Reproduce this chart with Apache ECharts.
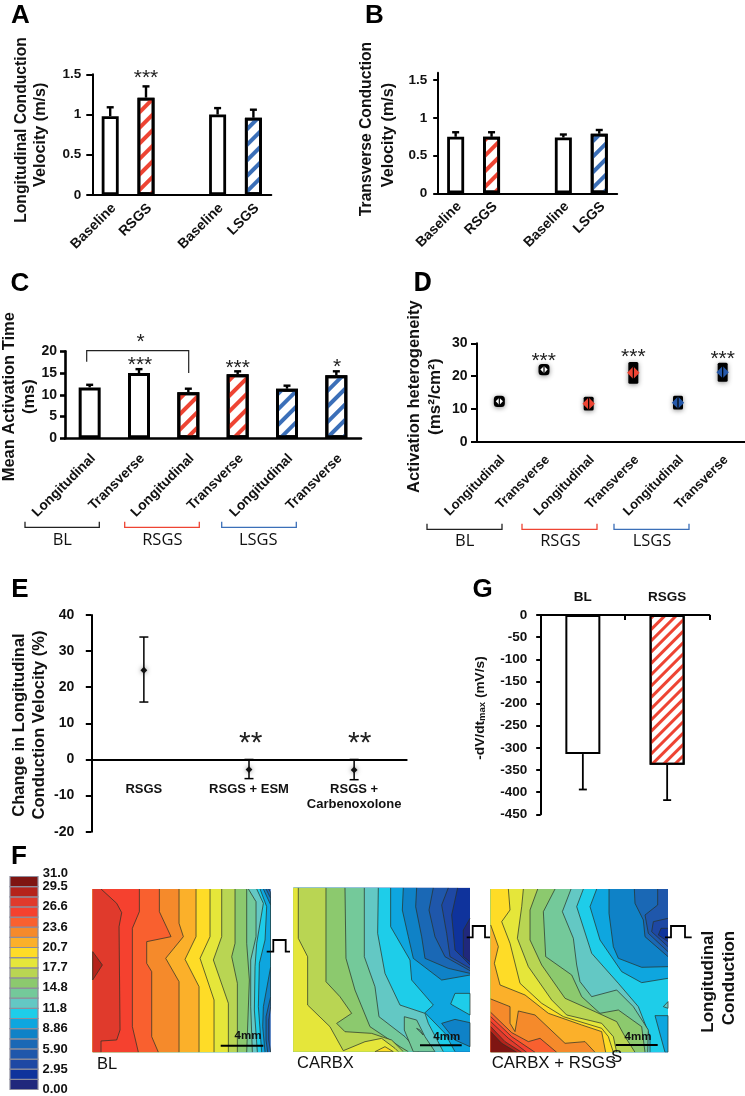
<!DOCTYPE html>
<html><head><meta charset="utf-8">
<script src="https://cdn.jsdelivr.net/npm/echarts@6/dist/echarts.min.js"></script>
<style>html,body{margin:0;padding:0;background:#fff}#c{width:745px;height:1096px}</style></head>
<body><div id="c"></div>
<script>
const RED='#ee4433', BLUE='#3b6fb8';
// Panels A, B
const catsAB=['Baseline','RSGS','','Baseline','LSGS'];
const aValues=[0.98,1.21,null,1.0,0.96];
const aErrTop=[1.09,1.35,null,1.08,1.06];
const bValues=[0.75,0.75,null,0.74,0.79];
const bErrTop=[0.81,0.81,null,0.78,0.84];
const hatchAB=[null,RED,null,null,BLUE];
// Panel C
const catsCD=['Longitudinal','Transverse','Longitudinal','Transverse','Longitudinal','Transverse'];
const cValues=[11.7,15.0,10.6,14.7,11.4,14.5];
const cErrTop=[12.3,15.9,11.4,15.4,12.1,15.4];
const hatchC=[null,null,RED,RED,BLUE,BLUE];
// Panel D
const dValues=[12.3,22.0,11.6,21.0,11.9,21.2];
const dErr=[1.4,1.4,1.8,3.0,1.8,2.6];
const dMarkColor=['#fff','#fff',RED,RED,'#2457a8','#2457a8'];
// Panel E
const catsE=['RSGS','RSGS + ESM','RSGS +\nCarbenoxolone'];
const eValues=[24.7,-2.8,-2.9];
const eLow=[15.9,-5.3,-5.6];
const eHigh=[33.9,0,0];
// Panel G
const catsG=['BL','RSGS'];
const gValues=[-314,-338];
const gErrEnd=[-394,-418];
const hatchG=[null,RED];
// Panel F colour scale (index 0 = lowest band)
const legendColors=['#20287c','#0f339c','#1e48a4','#1f57ab','#1a68b5','#0f82c7','#0ea6df','#1ecde9','#63c8c4','#74c99a','#8cc96e','#b9d553','#e5e63a','#fedc27','#fbb02a','#f58a2b','#f9602f','#f5412f','#e03a2c','#b5231b','#7f1512'];
const legendMax=31;
const legendTicks=[0,2.95,5.9,8.86,11.8,14.8,17.7,20.7,23.6,26.6,29.5];
// Contour maps: band level and boundary, in map units; warm side is filled
const mapBL={x:[278,812],y:[147,637],base:3,lines:[
 [4,[[806,147],[812,158],[812,500],[806,540],[806,600],[812,637]]],
 [5,[[798,147],[812,175],[812,470],[798,530],[798,600],[803,637]]],
 [6,[[790,147],[812,195],[812,380],[790,500],[788,560],[795,637]]],
 [7,[[780,147],[800,200],[795,300],[778,370],[775,500],[785,637]]],
 [8,[[770,147],[790,190],[770,310],[765,380],[763,510],[772,637]]],
 [9,[[745,147],[768,185],[768,290],[752,360],[752,500],[757,637]]],
 [10,[[740,147],[740,310],[748,420],[740,637]]],
 [11,[[705,147],[705,310],[695,350],[712,430],[712,637]]],
 [12,[[665,147],[665,290],[640,360],[685,490],[685,637]]],
 [13,[[630,147],[630,290],[600,355],[642,480],[642,637]]],
 [14,[[588,147],[588,290],[555,358],[597,440],[597,637]]],
 [15,[[537,147],[537,250],[550,290],[497,355],[537,425],[537,637]]],
 [16,[[478,147],[478,215],[513,290],[440,305],[440,370],[455,395],[455,590],[475,637]]],
 [17,[[418,147],[418,215],[397,265],[397,560],[415,637]]],
 [18,[[303,147],[350,190],[365,218],[357,260],[360,570],[350,600],[303,603],[303,637]]]],
 islands:[[19,[[278,335],[307,375],[278,420]]]]};
const mapCARBX={x:[25,555],y:[113,605],base:0,lines:[
 [1,[[555,205],[535,240],[535,320],[555,335]]],
 [2,[[518,113],[500,195],[510,300],[555,345]]],
 [3,[[490,113],[470,165],[485,250],[495,320],[555,355]]],
 [4,[[445,113],[432,180],[450,260],[480,320],[555,362]]],
 [5,[[395,113],[392,170],[410,260],[420,325],[490,355],[555,370]]],
 [6,[[355,113],[352,180],[370,260],[385,325],[470,390],[555,375]]],
 [7,[[317,113],[317,230],[375,330],[380,390],[445,465],[420,488],[480,550],[510,605]]],
 [8,[[280,113],[278,250],[300,370],[345,465],[420,490],[430,520],[475,605]]],
 [9,[[238,113],[238,320],[270,410],[282,500],[360,560],[400,605]]],
 [10,[[180,113],[183,325],[210,420],[255,530],[345,590],[370,605]]],
 [11,[[123,113],[123,395],[165,440],[200,490],[155,520],[180,545],[260,550],[320,570],[355,605]]],
 [12,[[40,113],[40,265],[68,320],[68,465],[135,530],[175,602],[240,575],[290,565],[330,595],[340,605]]]],
 islands:[[13,[[270,605],[300,590],[325,605]]],
 [9,[[358,500],[395,510],[420,560],[450,605],[385,605],[358,540]]],
 [8,[[395,535],[415,555],[405,540]]],
 [7,[[555,430],[510,430],[497,462],[555,495]]],
 [5,[[470,520],[510,508],[555,518],[555,590],[510,570]]]]};
const mapRSGS={x:[17,549],y:[117,607],base:1,lines:[
 [2,[[549,235],[528,235],[520,255],[549,275]]],
 [3,[[549,205],[505,215],[500,245],[549,290]]],
 [4,[[518,117],[518,165],[480,195],[490,250],[549,305]]],
 [5,[[448,117],[450,160],[475,210],[480,260],[549,320]]],
 [6,[[372,117],[372,190],[385,290],[400,325],[470,352],[549,350]]],
 [7,[[335,117],[315,170],[345,270],[410,365],[470,398],[549,385]]],
 [8,[[295,117],[275,170],[320,310],[400,400],[460,470],[495,560],[495,607]]],
 [9,[[258,117],[232,185],[265,265],[275,345],[285,395],[320,440],[395,420],[445,470],[490,540],[488,607]]],
 [10,[[210,117],[175,185],[182,320],[260,375],[290,440],[345,490],[400,480],[470,530],[480,607]]],
 [11,[[158,117],[135,180],[135,270],[170,345],[240,445],[330,485],[395,515],[420,560],[450,607]]],
 [12,[[115,117],[110,170],[97,265],[130,350],[200,450],[245,495],[350,520],[385,560],[395,607]]],
 [13,[[70,117],[75,180],[50,215],[75,280],[105,400],[170,460],[235,500],[350,535],[370,560],[385,607]]],
 [14,[[17,225],[40,290],[28,340],[45,405],[120,435],[190,490],[290,525],[350,545],[362,607]]],
 [15,[[17,447],[75,470],[75,520],[90,545],[100,483],[150,495],[240,580],[300,575],[330,607]]],
 [16,[[17,487],[80,548],[130,575],[165,565],[215,607]]],
 [17,[[17,500],[80,560],[150,607]]],
 [18,[[17,515],[70,565],[125,607]]],
 [19,[[17,530],[60,575],[110,607]]],
 [20,[[17,545],[50,580],[95,607]]]],
 islands:[[6,[[549,497],[510,497],[540,607],[549,607]]],[8,[[549,455],[535,470],[549,475]]]]};

const FONT='"Liberation Sans",Arial,sans-serif';
const grids=[],xAxes=[],yAxes=[],series=[],gfx=[];
function panel(box,xa,ya){grids.push({left:box[0],top:box[1],width:box[2],height:box[3],containLabel:false});
 const g=grids.length-1;xAxes.push(Object.assign({gridIndex:g},xa));yAxes.push(Object.assign({gridIndex:g},ya));return g;}
function valAxis(min,max,interval,o){o=o||{};const t=o.ticks;return {type:'value',min,max,interval,splitLine:{show:false},
 axisLine:{show:true,onZero:false,lineStyle:{color:'#000',width:o.lw||2}},
 axisTick:Object.assign({show:true,length:o.tl||5,lineStyle:{color:'#000',width:o.lw||2}},t?{customValues:t}:{}),
 axisLabel:Object.assign({show:true,color:'#111',fontFamily:FONT,fontWeight:'bold',fontSize:o.fs||13.5,margin:o.margin||5},t?{customValues:t}:{})};}
function catAxis(data,o){o=o||{};const lab={interval:0,rotate:o.rotate||0,color:'#111',fontFamily:FONT,fontWeight:'bold',fontSize:o.fs||13,margin:o.margin===undefined?6:o.margin,lineHeight:15};
 if(o.rotate){lab.verticalAlign='top';lab.padding=[0,2.5,0,0];}
 return {type:'category',data,position:o.position||'bottom',
 axisLine:{show:true,lineStyle:{color:'#000',width:o.lw||2}},
 axisTick:{show:!!o.ticks,inside:true,length:5,lineStyle:{color:'#000',width:2}},
 axisLabel:lab,splitLine:{show:false}};}
function hatch(c,dash){return {symbol:'rect',color:c,dashArrayX:[1,0],dashArrayY:dash,symbolSize:1,rotation:-Math.PI/4};}
function bars(g,values,hatches,w,bw,dash){series.push({type:'bar',xAxisIndex:g,yAxisIndex:g,barWidth:w,z:3,animation:false,
 data:values.map((v,i)=>{if(v===null)return null;const st={color:'#fff',borderColor:'#000',borderWidth:bw};if(hatches[i])st.decal=hatch(hatches[i],dash);return {value:v,itemStyle:st};})});}
function errBars(g,rows,cap,lw,both){series.push({type:'custom',xAxisIndex:g,yAxisIndex:g,z:2,animation:false,clip:false,encode:{x:0,y:[1,2]},data:rows,
 renderItem(p,api){const x=api.value(0),a=api.coord([x,api.value(1)]),b=api.coord([x,api.value(2)]);
  const st={stroke:'#000',lineWidth:lw};
  const ln=(x1,y1,x2,y2)=>({type:'line',shape:{x1,y1,x2,y2},style:st});
  const ch=[ln(a[0],a[1],b[0],b[1]),ln(b[0]-cap,b[1],b[0]+cap,b[1])];
  if(both)ch.push(ln(a[0]-cap,a[1],a[0]+cap,a[1]));
  return {type:'group',children:ch};}});}
function T(x,y,text,o){o=o||{};return {type:'text',x,y,rotation:o.rot?Math.PI/2:0,silent:true,z:20,style:{text,fill:o.color||'#111',fontFamily:o.family||FONT,fontWeight:o.weight||'normal',fontSize:o.size||13,textAlign:o.align||'center',textVerticalAlign:'middle'}};}
function PL(points,color,lw){return {type:'polyline',silent:true,z:20,shape:{points},style:{stroke:color,lineWidth:lw||1.5,fill:null}};}
function stars(x,y,s,size){gfx.push(T(x,y+(size||21)*0.22,s,{size:size||21,color:'#222'}));}

// A
const A=panel([92.3,74.3,179,120.7],catAxis(catsAB,{rotate:45,fs:14,margin:4}),valAxis(0,1.5,0.5,{margin:11,tl:6}));
bars(A,aValues,hatchAB,17,2.8,[3.5,7]);
errBars(A,aValues.map((v,i)=>v===null?null:[i,v,aErrTop[i]]).filter(Boolean),3.5,2.4);
// B
const B=panel([437.7,72.7,179.5,120.6],catAxis(catsAB,{rotate:45,fs:14,margin:4}),valAxis(0,1.6,0.5,{ticks:[0,0.5,1,1.5],margin:10.5,tl:4.5}));
bars(B,bValues,hatchAB,17,2.8,[3.5,7]);
errBars(B,bValues.map((v,i)=>v===null?null:[i,v,bErrTop[i]]).filter(Boolean),3.5,2.4);
// C
const C=panel([65,351.3,296,87],catAxis(catsCD,{rotate:45,fs:13.8,margin:11,lw:2.5}),valAxis(0,20,5,{lw:2.6,fs:14,margin:8}));
bars(C,cValues,hatchC,22,3,[3.2,6.5]);
errBars(C,cValues.map((v,i)=>[i,v,cErrTop[i]]),3.5,2.4);
// D
const D=panel([477,343.3,268,98.4],catAxis(catsCD,{rotate:45,fs:13.2,margin:9,lw:2}),valAxis(0,30,10,{fs:14,margin:9.5,tl:6}));
series.push({type:'custom',xAxisIndex:D,yAxisIndex:D,z:4,animation:false,clip:false,encode:{x:0,y:1},
 data:dValues.map((v,i)=>[i,v,dErr[i]]),
 renderItem(p,api){const i=api.value(0),v=api.value(1),e=api.value(2),c=api.coord([i,v]),t=api.coord([i,v+e]),b=api.coord([i,v-e]);
  const col=dMarkColor[p.dataIndex],white=col==='#fff',r=white?3.6:6.2,w=white?11:10;
  return {type:'group',children:[
   {type:'rect',shape:{x:c[0]-w/2,y:t[1]-1,width:w,height:b[1]-t[1]+2,r:white?3.5:1.5},style:{fill:'#000',shadowBlur:5,shadowColor:'rgba(0,0,0,.45)',shadowOffsetY:1}},
   {type:'polygon',shape:{points:[[c[0]-r,c[1]],[c[0],c[1]-r],[c[0]+r,c[1]],[c[0],c[1]+r]]},style:{fill:col}},
   {type:'line',shape:{x1:c[0],y1:c[1]-r,x2:c[0],y2:c[1]+r},style:{stroke:'#000',lineWidth:1.2}}]};}});
// E
const E=panel([91.3,615,315.4,216.7],catAxis(catsE,{fs:13,margin:-49.7,lw:2}),valAxis(-20,40,10,{fs:14,tl:5.5,margin:17}));
errBars(E,eValues.map((v,i)=>[i,eLow[i],eHigh[i]]),4.5,1.5,true);
series.push({type:'custom',xAxisIndex:E,yAxisIndex:E,z:4,animation:false,clip:false,encode:{x:0,y:1},
 data:eValues.map((v,i)=>[i,v]),
 renderItem(p,api){const c=api.coord([api.value(0),api.value(1)]),r=3.4;
  return {type:'polygon',shape:{points:[[c[0]-r,c[1]],[c[0],c[1]-r],[c[0]+r,c[1]],[c[0],c[1]+r]]},style:{fill:'#111',shadowBlur:5,shadowColor:'rgba(0,0,0,.5)'}};}});
// G
const G=panel([540.7,615,168.6,199.3],catAxis(catsG,{position:'top',ticks:true,fs:13.5,margin:10}),valAxis(-450,0,50,{fs:13.5,margin:13.5,tl:4.5}));
bars(G,gValues,hatchG,35,2,[3,5]);
errBars(G,gValues.map((v,i)=>[i,v,gErrEnd[i]]),4,1.8);
// F colour scale
const L=panel([10,876.5,28,213],{type:'value',min:0,max:1,show:false},{type:'value',min:0,max:legendMax,position:'right',splitLine:{show:false},axisLine:{show:false},
 axisTick:{show:true,length:2,lineStyle:{color:'#777',width:1},customValues:legendTicks},
 axisLabel:{show:true,customValues:legendTicks,showMaxLabel:true,showMinLabel:true,hideOverlap:false,color:'#111',fontFamily:FONT,fontWeight:'bold',fontSize:13,margin:4.5,padding:[0,0,4,0],formatter:v=>v<10?v.toFixed(2):v.toFixed(1)}});
gfx.push(T(42.7,873.5,legendMax.toFixed(1),{size:13,weight:'bold',align:'left'}));
series.push({type:'custom',xAxisIndex:L,yAxisIndex:L,animation:false,encode:{x:0,y:1},
 data:legendColors.map((c,i)=>[0,i]),
 renderItem(p,api){const i=api.value(1),s=legendMax/legendColors.length,a=api.coord([0,(i+1)*s]),b=api.coord([1,i*s]);
  return {type:'rect',shape:{x:a[0],y:a[1],width:b[0]-a[0],height:b[1]-a[1]},style:{fill:legendColors[i],stroke:'#8d8d9c',lineWidth:1.2}};}});
// F contour maps
function contour(map,box){const g=panel(box,{type:'value',min:map.x[0],max:map.x[1],show:false},{type:'value',min:map.y[0],max:map.y[1],inverse:true,show:false});
 const [X0,X1]=map.x,[Y0,Y1]=map.y;
 const items=[[map.base,[[X0,Y0],[X1,Y0],[X1,Y1],[X0,Y1]],'base']]
  .concat(map.lines.map(l=>[l[0],l[1],'line'])).concat(map.islands.map(l=>[l[0],l[1],'island']));
 series.push({type:'custom',xAxisIndex:g,yAxisIndex:g,animation:false,clip:true,encode:{x:0,y:1},
  data:items.map(()=>[X0,Y0]),
  renderItem(p,api){const [lvl,pts,kind]=items[p.dataIndex];let poly=pts.slice();
   if(kind==='line'){const f=pts[0],l=pts[pts.length-1];
    if(f[0]===X1)poly.unshift([X1,Y0]);
    if(l[0]===X1)poly.push([X1,Y1]);
    poly.push([X0,Y1]);
    if(f[0]!==X0)poly.push([X0,Y0]);}
   const fillEl={type:'polygon',shape:{points:poly.map(q=>api.coord(q))},style:{fill:legendColors[lvl]}};
   if(kind==='base')return fillEl;
   return {type:'group',children:[fillEl,{type:'polyline',shape:{points:(kind==='island'?pts.concat([pts[0]]):pts).map(q=>api.coord(q))},style:{stroke:'rgba(40,50,40,.8)',lineWidth:0.9,fill:null}}]};}});}
contour(mapBL,[92.7,889,178,163.3]);
contour(mapCARBX,[293.3,887.7,176.7,164]);
contour(mapRSGS,[490.7,889,177.3,163.3]);

// Panel letters
[['A',20.5,16],['B',374.5,16],['C',20,284],['E',20,590],['G',482.5,590],['F',19,857]].forEach(a=>gfx.push(T(a[1],a[2],a[0],{size:26,weight:'bold',color:'#000'})));
gfx.push(T(422.5,284,'D',{size:26,weight:'bold',color:'#000',family:'"Open Sans",sans-serif'}));
// Axis titles
const TS={size:15.7,weight:'bold',rot:true},TL={size:16.5,weight:'bold',rot:true};
gfx.push(T(22,130,'Longitudinal Conduction',TS),T(41,134.7,'Velocity (m/s)',{size:16.2,weight:'bold',rot:true}));
gfx.push(T(367,129,'Transverse Conduction',TS),T(388.7,135,'Velocity (m/s)',{size:16.2,weight:'bold',rot:true}));
gfx.push(T(9.5,396.7,'Mean Activation Time',TL),T(29.3,396.7,'(ms)',TL));
gfx.push(T(414,396.7,'Activation heterogeneity',TL),T(435,396.7,'(ms²/cm²)',{size:17,weight:'bold',rot:true}));
gfx.push(T(19,725,'Change in Longitudinal',TL),T(39.3,725,'Conduction Velocity (%)',TL));
gfx.push({type:'text',x:480,y:708,rotation:Math.PI/2,silent:true,z:20,style:{text:'{a|-dV/dt}{b|max}{a| (mV/s)}',textAlign:'center',textVerticalAlign:'middle',rich:{a:{fontFamily:FONT,fontWeight:'bold',fontSize:13.7,fill:'#111'},b:{fontFamily:FONT,fontWeight:'bold',fontSize:9.5,fill:'#111',verticalAlign:'bottom',padding:[5,0,0,0]}}}});
// Significance marks
stars(146,73.5,'***');
stars(140.7,338,'*');stars(140,361,'***');stars(237.7,364,'***');stars(337,363,'*');
stars(543.7,357,'***');stars(633.3,353,'***');stars(722.7,354.5,'***');
stars(250.7,737.5,'**',30);stars(359.7,737.5,'**',30);
gfx.push(PL([[86.7,361.7],[86.7,350.7],[188.7,350.7],[188.7,373]],'#222',1.2));
// Group brackets
const brk=(x0,x1,y,c)=>PL([[x0,y-5.5],[x0,y],[x1,y],[x1,y-5.5]],c,1.3);
gfx.push(brk(25,99.3,527.3,'#222'),brk(124.7,199.3,527.3,RED),brk(221.7,296.3,527.3,BLUE));
gfx.push(brk(427,502,529.3,'#222'),brk(522,597,529.3,RED),brk(614,689,529.3,BLUE));
const GF='"Open Sans",sans-serif';
[['BL',62.3,540.7],['RSGS',162.3,540.7],['LSGS',258.3,540.7],['BL',464.7,541],['RSGS',560.3,541],['LSGS',652,541]].forEach(a=>gfx.push(T(a[1],a[2],a[0],{size:16.5,family:GF})));
// Map captions, scale bars, pulses
gfx.push(T(97,1064,'BL',{size:16.5,align:'left'}),T(297,1063,'CARBX',{size:16.5,align:'left'}),T(491.7,1063,'CARBX + RSGS',{size:16.8,align:'left'}),T(616.7,1057,'S',{size:16.8}));
[[220.7,263.3,1045.7,248,1035.7],[420,461.7,1045.3,446.7,1037],[615.7,657.7,1045,638,1037]].forEach(a=>{gfx.push(PL([[a[0],a[2]],[a[1],a[2]]],'#000',2));gfx.push(T(a[3],a[4],'4mm',{size:11.5,weight:'bold'}));});
gfx.push(PL([[266.7,951.7],[273.3,951.7],[273.3,940],[285.7,940],[285.7,951.7],[290,951.7]],'#000',1.8));
gfx.push(PL([[466.7,937.3],[472.7,937.3],[472.7,926],[485,926],[485,937.3],[490,937.3]],'#000',1.8));
gfx.push(PL([[665,937.3],[671,937.3],[671,926],[685,926],[685,937.3],[691.7,937.3]],'#000',1.8));
gfx.push(T(708.3,981.7,'Longitudinal',{size:17,weight:'bold',rot:true}),T(729.3,978,'Conduction',{size:17,weight:'bold',rot:true}));

const chart=echarts.init(document.getElementById('c'),null,{renderer:'canvas',width:745,height:1096});
chart.setOption({animation:false,backgroundColor:'#fff',grid:grids,xAxis:xAxes,yAxis:yAxes,series,graphic:{elements:gfx},tooltip:{show:false},legend:{show:false}});
</script></body></html>
